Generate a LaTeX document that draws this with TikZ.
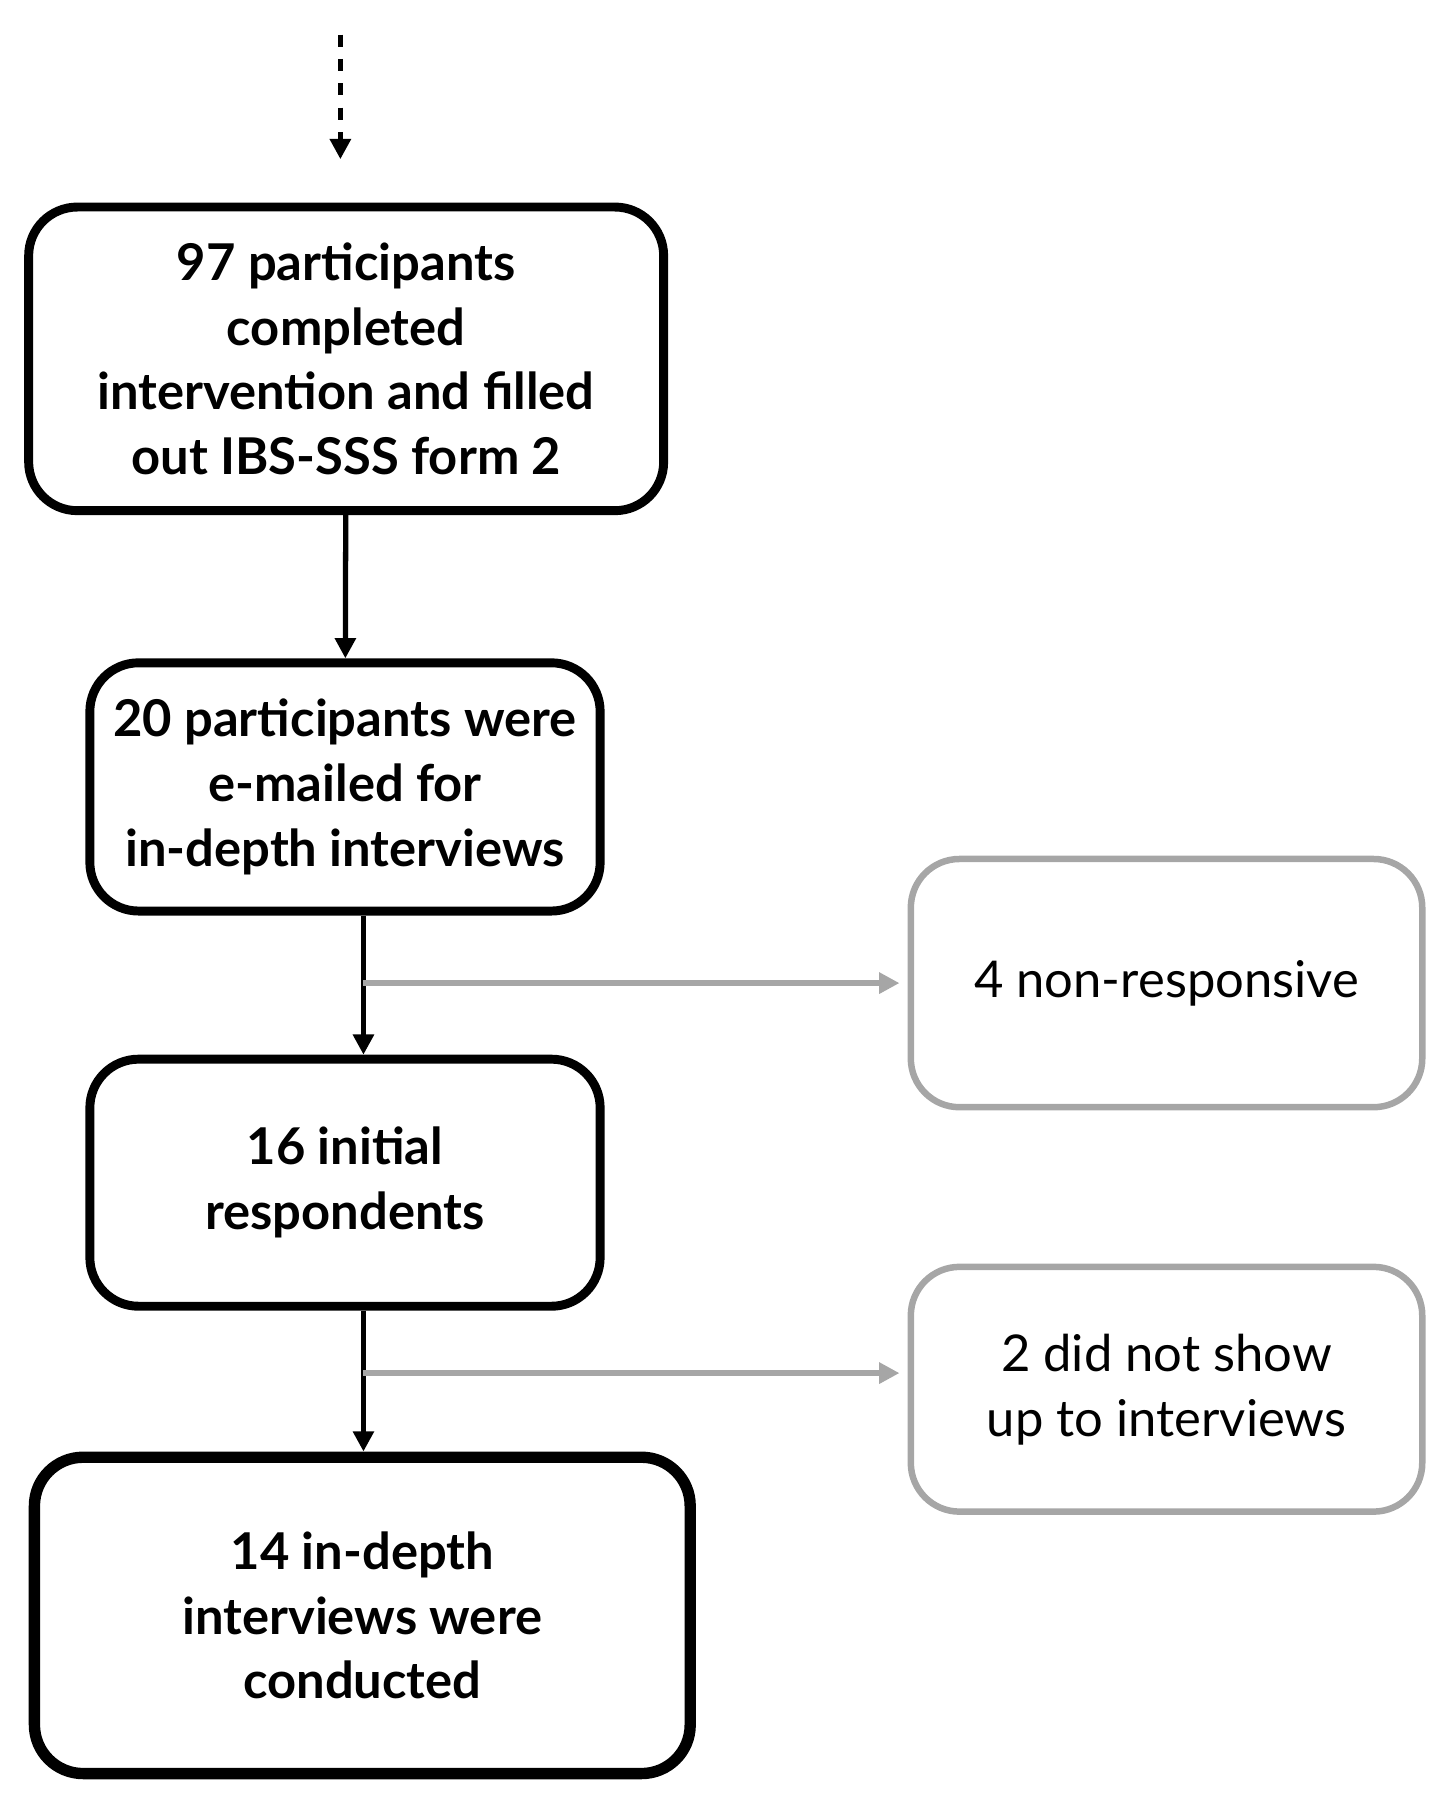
\documentclass[tikz,border=0pt]{standalone}
\usepackage{fontspec}
\setmainfont{Lato}
\usetikzlibrary{arrows.meta}
\tikzset{
  box/.style={draw=black,line width=2.2pt,rounded corners=12pt,align=center,font=\fontsize{12.5}{16}\selectfont\bfseries},
  side/.style={draw=black!35,line width=1.6pt,rounded corners=12pt,align=center,font=\fontsize{12.5}{16}\selectfont},
  flow/.style={-{Triangle[width=5pt,length=5pt]},line width=1.3pt},
  skip/.style={-{Triangle[width=5pt,length=5pt]},line width=1.3pt,draw=black!35}
}
\begin{document}
\begin{tikzpicture}[x=0.01cm,y=-0.01cm]
\useasboundingbox (0,0) rectangle (1250,1560);
\coordinate (top) at (295,30);
\node[box,minimum width=5.5cm,minimum height=2.63cm] (completed) at (300,311) {97 participants\\completed\\intervention and filled\\out IBS-SSS form 2};
\node[box,minimum width=4.42cm,minimum height=2.15cm] (emailed) at (299,682) {20 participants were\\e-mailed for\\in-depth interviews};
\node[box,minimum width=4.42cm,minimum height=2.14cm] (initial) at (299,1025) {16 initial\\respondents};
\node[box,line width=2.8pt,minimum width=5.68cm,minimum height=2.74cm] (conducted) at (314,1400) {14 in-depth\\interviews were\\conducted};
\node[side,minimum width=4.43cm,minimum height=2.15cm] (nonresp) at (1011,852) {4 non-responsive};
\node[side,minimum width=4.43cm,minimum height=2.12cm] (noshow) at (1011,1204) {2 did not show\\up to interviews};
\draw[flow,dashed] (top) -- (295,138);
\draw[flow] (completed) -- (emailed);
\draw[flow] (emailed.south) ++(16,0) coordinate (e1) -- (initial.north -| e1);
\draw[skip] (e1 |- nonresp) -- ([xshift=-2pt]nonresp.west);
\draw[flow] (initial.south) ++(16,0) coordinate (i1) -- (conducted.north -| i1);
\draw[skip] (i1 |- 1190,1190) -- ([xshift=-2pt]noshow.west |- 1190,1190);
\end{tikzpicture}
\end{document}
